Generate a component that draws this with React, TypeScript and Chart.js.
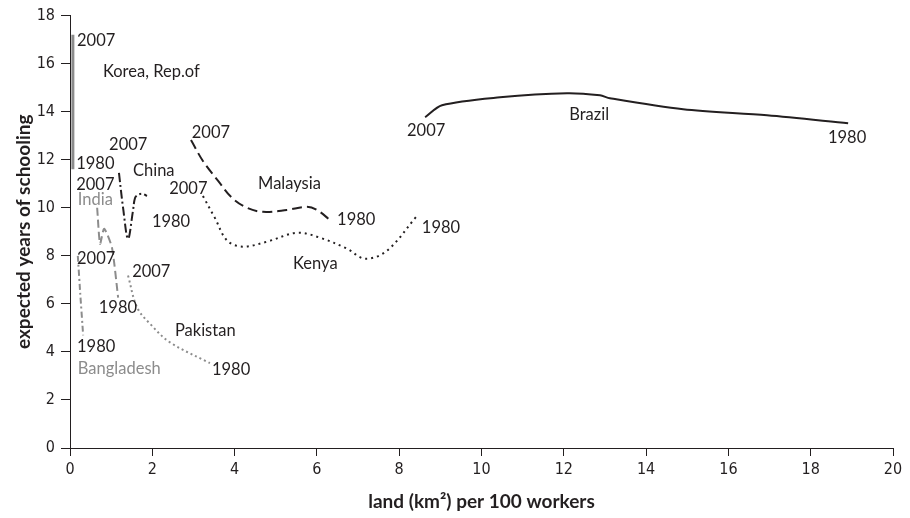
import React, { useEffect, useRef } from "react";
import { Chart, registerables } from "chart.js";

Chart.register(...registerables);

// ---- Data (land km² per 100 workers, expected years of schooling), ordered 2007 -> 1980 ----
const KOREA_X = [0.07, 0.07];
const KOREA_Y = [17.2, 11.6];

const CHINA_X = [1.19, 1.29, 1.41, 1.53, 1.58, 1.65, 1.77, 1.87];
const CHINA_Y = [11.45, 10.0, 8.71, 9.87, 10.41, 10.54, 10.58, 10.49];

const MALAYSIA_X = [2.94, 3.23, 3.6, 3.94, 4.3, 4.69, 5.27, 5.76, 6.0, 6.34];
const MALAYSIA_Y = [12.82, 11.95, 11.12, 10.41, 10.0, 9.83, 9.91, 10.04, 9.91, 9.46];

const KENYA_X = [3.23, 3.52, 3.82, 4.2, 4.79, 5.52, 6.08, 6.73, 7.17, 7.7, 8.43];
const KENYA_Y = [10.49, 9.58, 8.63, 8.38, 8.59, 8.96, 8.75, 8.3, 7.88, 8.21, 9.66];

const BRAZIL_X = [8.63, 9.04, 10.45, 12.08, 12.88, 13.12, 14.9, 16.94, 18.91];
const BRAZIL_Y = [13.77, 14.27, 14.6, 14.77, 14.68, 14.56, 14.1, 13.85, 13.52];

const INDIA_X = [0.66, 0.73, 0.83, 1.02, 1.17];
const INDIA_Y = [10.0, 8.5, 9.13, 8.34, 6.26];

const BANGLADESH_X = [0.19, 0.25, 0.32];
const BANGLADESH_Y = [8.0, 6.4, 4.69];

const PAKISTAN_X = [1.41, 1.63, 1.94, 2.43, 3.4];
const PAKISTAN_Y = [7.18, 5.85, 5.18, 4.4, 3.53];

// ---- Text annotations (in data units: left edge x, middle y) ----
const LABEL_TEXT = [
  "2007", "Korea, Rep.of", "1980",
  "2007", "China", "1980",
  "2007", "Malaysia", "1980",
  "2007", "Kenya", "1980",
  "2007", "Brazil", "1980",
  "2007", "India", "1980",
  "2007", "Bangladesh", "1980",
  "2007", "Pakistan", "1980",
];
const LABEL_X = [
  0.17, 0.8, 0.15,
  0.95, 1.53, 1.99,
  2.96, 4.57, 6.49,
  2.41, 5.42, 8.55,
  8.19, 12.13, 18.42,
  0.15, 0.19, 0.7,
  0.17, 0.19, 0.17,
  1.51, 2.55, 3.45,
];
const LABEL_Y = [
  16.96, 15.68, 11.82,
  12.61, 11.53, 9.42,
  13.11, 10.99, 9.5,
  10.78, 7.67, 9.17,
  13.19, 13.89, 12.9,
  10.95, 10.33, 5.85,
  7.88, 3.32, 4.23,
  7.34, 4.89, 3.24,
];
const LABEL_GRAY = [
  false, false, false,
  false, false, false,
  false, false, false,
  false, false, false,
  false, false, false,
  false, true, false,
  false, true, false,
  false, false, false,
];

const X_TITLE = "land (km²) per 100 workers";
const Y_TITLE = "expected years of schooling";

const BLACK = "#231f20";
const GRAY = "#8c8c8c";

function pts(xs: number[], ys: number[]) {
  return xs.map((x, i) => ({ x, y: ys[i] }));
}

const labelPlugin = {
  id: "countryLabels",
  afterDatasetsDraw(chart: any) {
    const { ctx, scales } = chart;
    ctx.save();
    ctx.font = '16.5px Lato, "Open Sans", sans-serif';
    ctx.textAlign = "left";
    ctx.textBaseline = "middle";
    LABEL_TEXT.forEach((t, i) => {
      ctx.fillStyle = LABEL_GRAY[i] ? GRAY : BLACK;
      ctx.fillText(t, scales.x.getPixelForValue(LABEL_X[i]), scales.y.getPixelForValue(LABEL_Y[i]));
    });
    ctx.restore();
  },
};

export default function App() {
  const ref = useRef<HTMLCanvasElement | null>(null);

  useEffect(() => {
    if (!ref.current) return;
    const mk = (data: any, color: string, width: number, dash: number[], tension: number) => ({
      data,
      borderColor: color,
      backgroundColor: color,
      borderWidth: width,
      borderDash: dash,
      showLine: true,
      pointRadius: 0,
      pointHoverRadius: 0,
      tension,
      fill: false,
    });
    const chart = new Chart(ref.current, {
      type: "scatter",
      data: {
        datasets: [
          mk(pts(KOREA_X, KOREA_Y), GRAY, 3, [], 0),
          mk(pts(CHINA_X, CHINA_Y), BLACK, 2, [9, 3, 2, 3], 0.35),
          mk(pts(MALAYSIA_X, MALAYSIA_Y), BLACK, 2, [10, 5], 0.35),
          mk(pts(KENYA_X, KENYA_Y), BLACK, 2, [2, 4], 0.35),
          mk(pts(BRAZIL_X, BRAZIL_Y), BLACK, 2, [], 0.3),
          mk(pts(INDIA_X, INDIA_Y), GRAY, 2, [8, 4], 0.2),
          mk(pts(BANGLADESH_X, BANGLADESH_Y), GRAY, 2, [6, 3, 2, 3], 0.2),
          mk(pts(PAKISTAN_X, PAKISTAN_Y), GRAY, 2, [2, 3], 0.35),
        ],
      },
      options: {
        responsive: false,
        animation: false,
        events: [],
        layout: { padding: { top: 14, right: 17, left: 0, bottom: 0 } },
        plugins: { legend: { display: false }, tooltip: { enabled: false } },
        scales: {
          x: {
            type: "linear",
            min: 0,
            max: 20,
            afterFit: (s: any) => { s.height = 70; },
            ticks: {
              stepSize: 2,
              color: BLACK,
              padding: 4,
              font: { family: '"Liberation Sans Narrow", "DejaVu Sans Condensed", sans-serif', size: 16 },
              maxRotation: 0,
            },
            grid: { drawOnChartArea: false, drawTicks: true, tickLength: 8, color: BLACK },
            border: { display: true, color: BLACK, width: 1 },
            title: {
              display: true,
              text: X_TITLE,
              color: BLACK,
              font: { family: 'Lato, "Open Sans", sans-serif', size: 19, weight: "bold" },
              padding: { top: 0, bottom: 5 },
            },
          },
          y: {
            type: "linear",
            min: 0,
            max: 18,
            afterFit: (s: any) => { s.width = 70; },
            ticks: {
              stepSize: 2,
              color: BLACK,
              padding: 6,
              font: { family: '"Liberation Sans Narrow", "DejaVu Sans Condensed", sans-serif', size: 16 },
            },
            grid: { drawOnChartArea: false, drawTicks: true, tickLength: 9, color: BLACK },
            border: { display: true, color: BLACK, width: 1 },
            title: {
              display: true,
              text: Y_TITLE,
              color: BLACK,
              font: { family: 'Lato, "Open Sans", sans-serif', size: 19, weight: "bold" },
              padding: { top: 12, bottom: 0 },
            },
          },
        },
      },
      plugins: [labelPlugin],
    });
    return () => chart.destroy();
  }, []);

  return (
    <div style={{ position: "absolute", left: 0, top: 0, width: 910, height: 518, background: "#fff" }}>
      <canvas ref={ref} width={910} height={518} />
    </div>
  );
}
